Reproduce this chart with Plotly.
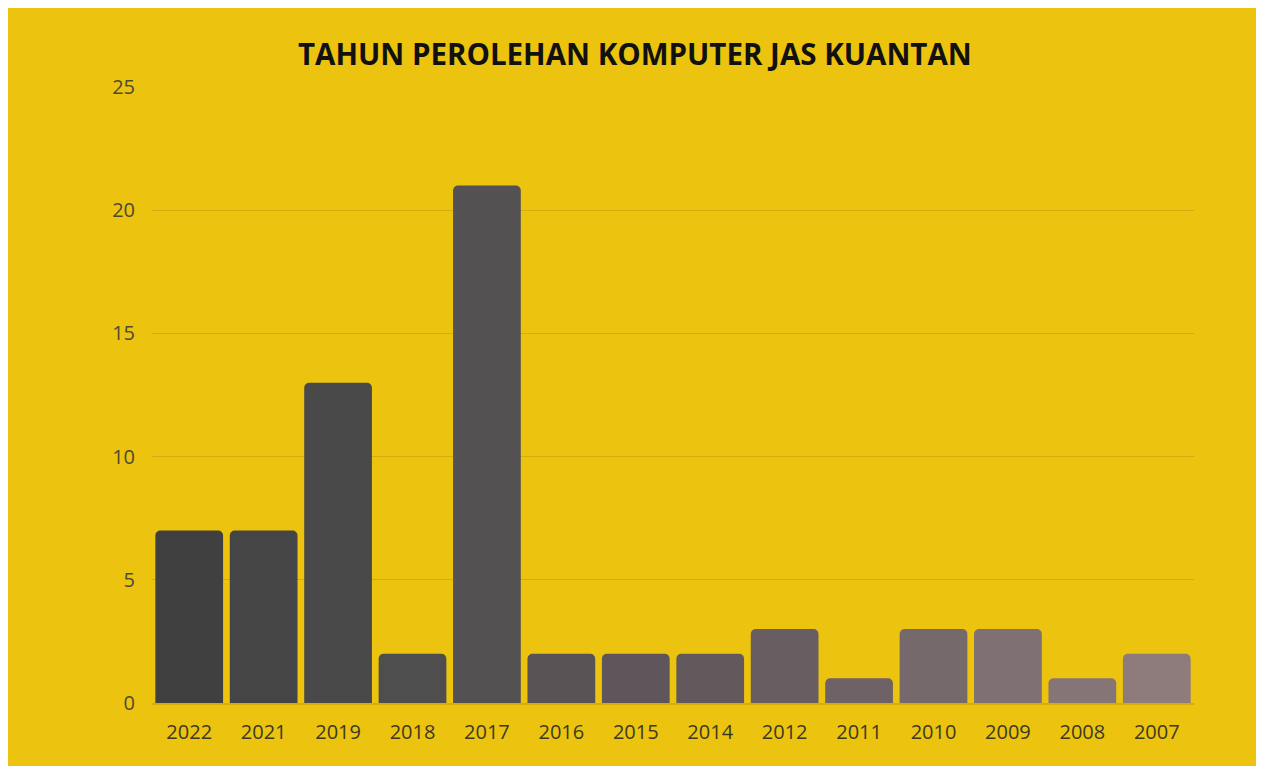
import plotly.graph_objects as go

years = ["2022", "2021", "2019", "2018", "2017", "2016", "2015", "2014",
         "2012", "2011", "2010", "2009", "2008", "2007"]
counts = [7, 7, 13, 2, 21, 2, 2, 2, 3, 1, 3, 3, 1, 2]
bar_colors = ["#404040", "#454545", "#4a494a", "#4f4e4f", "#545153", "#595356",
              "#5e565a", "#63595d", "#685d61", "#6e6266", "#75696c", "#7e7073",
              "#867577", "#8e7b7b"]
title_text = "TAHUN PEROLEHAN KOMPUTER JAS KUANTAN"

fig = go.Figure(go.Bar(
    x=years, y=counts,
    marker=dict(color=bar_colors, line=dict(width=0)),
    hoverinfo="x+y",
))

fig.update_layout(
    width=1250, height=758,
    margin=dict(l=144, r=64, t=79, b=63),
    paper_bgcolor="#ecc30f",
    plot_bgcolor="rgba(0,0,0,0)",
    bargap=0.09,
    barcornerradius=5,
    showlegend=False,
    title=dict(text="<b>" + title_text + "</b>", x=0.5015, xref="container",
               y=0.938, yref="container", xanchor="center", yanchor="middle",
               font=dict(family="Open Sans", size=29.5, color="#111111")),
    font=dict(family="Open Sans"),
    xaxis=dict(type="category", showgrid=False, showline=True,
               linecolor="#d2ad0c", linewidth=2, ticks="",
               tickfont=dict(size=20, color="#3d3a22"), ticklabelstandoff=10),
    yaxis=dict(range=[0, 25], dtick=5, showgrid=True, gridcolor="#d3ac10",
               gridwidth=1, zeroline=False, showline=False, ticks="",
               tickfont=dict(size=20, color="#4e4a32"), ticklabelstandoff=16),
)

fig.write_html("out.html")
